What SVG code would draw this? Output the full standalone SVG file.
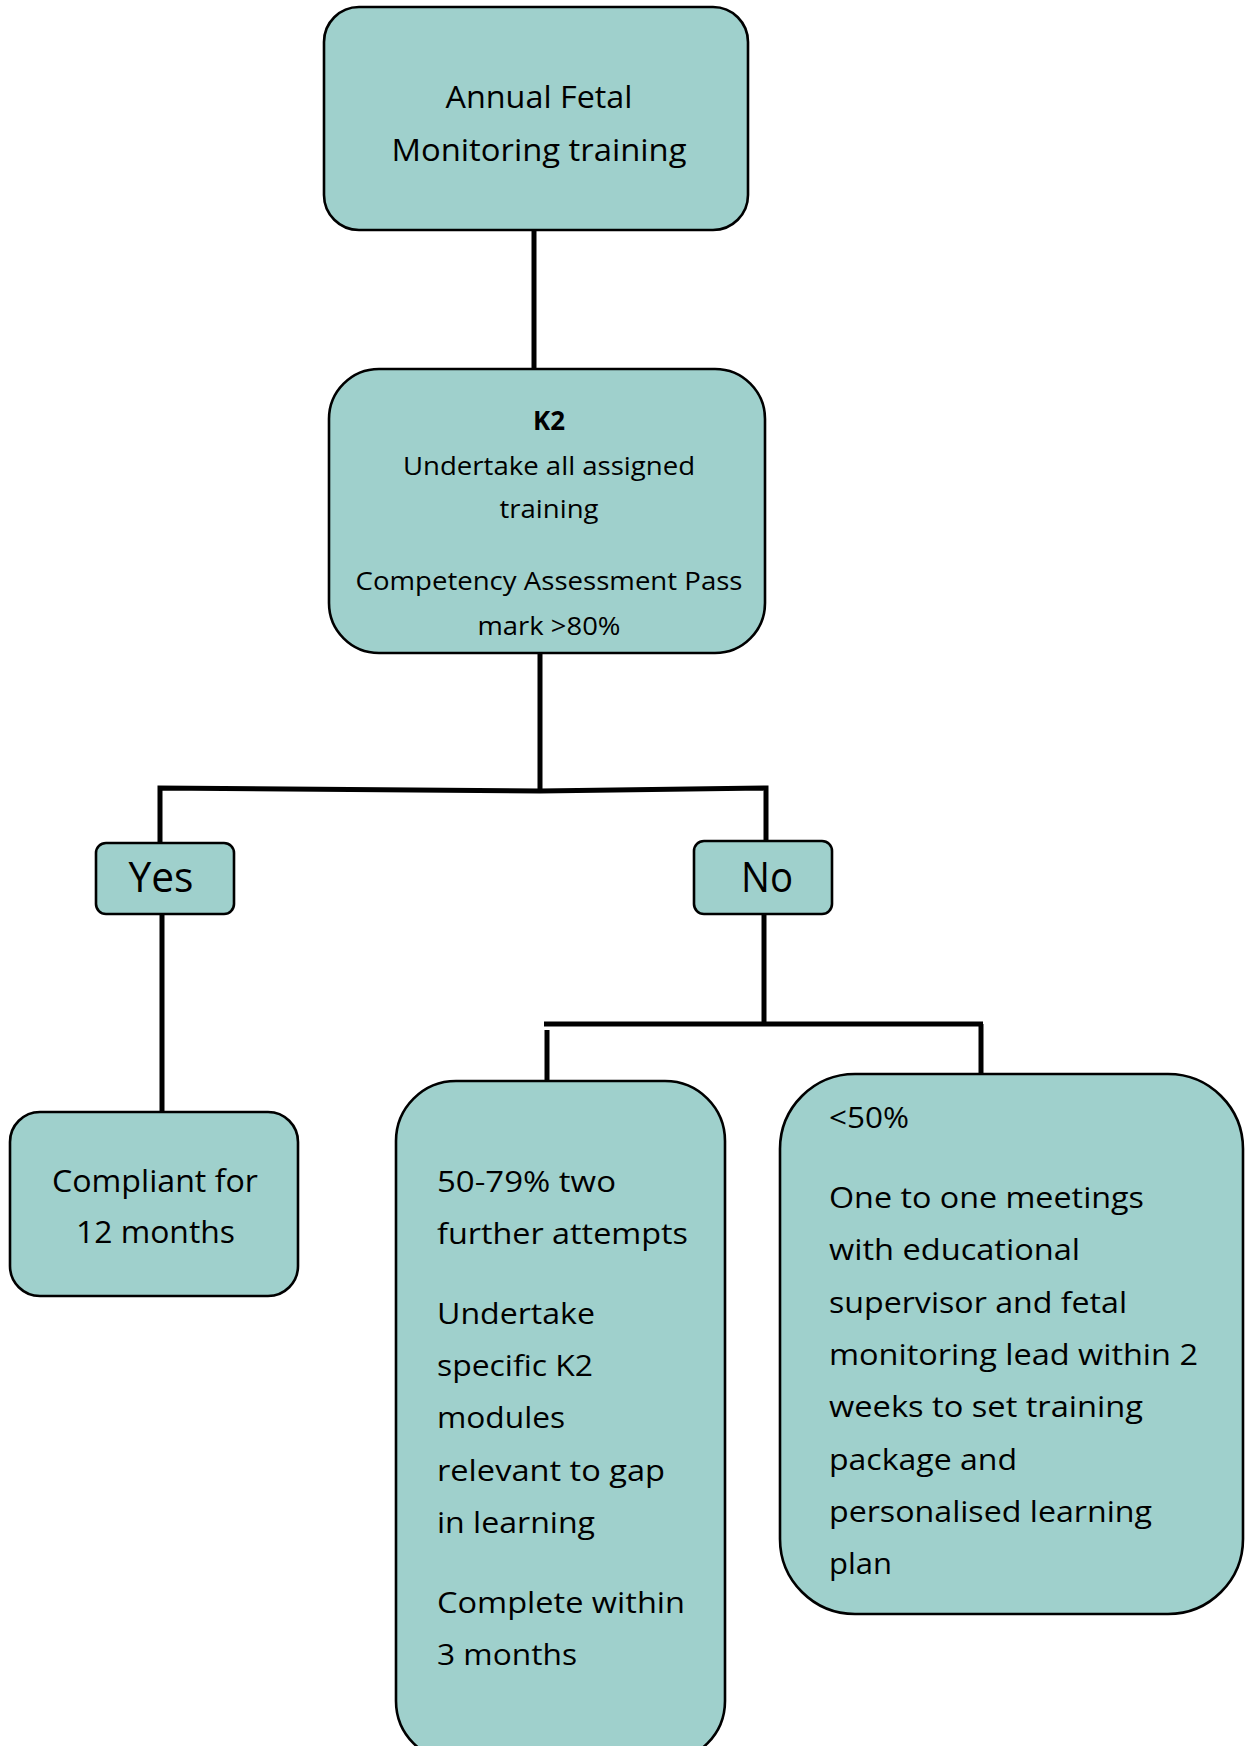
<svg xmlns="http://www.w3.org/2000/svg" width="1247" height="1746" viewBox="0 0 1247 1746">
<style>
.box{fill:#9fd0cc;stroke:#000;stroke-width:2.6}
.t{font-family:"Open Sans","Noto Sans",sans-serif;fill:#000}
.c{text-anchor:middle}
.ln{fill:none;stroke:#000;stroke-width:5;stroke-linecap:butt}
</style>
<rect width="1247" height="1746" fill="#fff"/>
<g id="connectors">
<line class="ln" x1="534" y1="230" x2="534" y2="369"/>
<line class="ln" x1="540" y1="653" x2="540" y2="791"/>
<polyline class="ln" points="160,846 160,788 540,791 766,788 766,842"/>
<line class="ln" x1="162" y1="914" x2="162" y2="1112"/>
<line class="ln" x1="764" y1="914" x2="764" y2="1024"/>
<line class="ln" x1="544" y1="1024" x2="983" y2="1024"/>
<line class="ln" x1="547" y1="1030" x2="547" y2="1081"/>
<line class="ln" x1="981" y1="1024" x2="981" y2="1074"/>
</g>
<g id="annual">
<rect class="box" x="324" y="7" width="424" height="223" rx="35"/>
<text class="t c" font-size="31" x="539" y="108" textLength="187" lengthAdjust="spacingAndGlyphs">Annual Fetal</text>
<text class="t c" font-size="31" x="539" y="161" textLength="295" lengthAdjust="spacingAndGlyphs">Monitoring training</text>
</g>
<g id="k2">
<rect class="box" x="329" y="369" width="436" height="284" rx="50"/>
<text class="t c" font-size="26" font-weight="bold" x="549" y="430" textLength="32" lengthAdjust="spacingAndGlyphs">K2</text>
<text class="t c" font-size="26" x="549" y="475" textLength="292" lengthAdjust="spacingAndGlyphs">Undertake all assigned</text>
<text class="t c" font-size="26" x="549" y="518" textLength="99" lengthAdjust="spacingAndGlyphs">training</text>
<text class="t c" font-size="26" x="549" y="590" textLength="387" lengthAdjust="spacingAndGlyphs">Competency Assessment Pass</text>
<text class="t c" font-size="26" x="549" y="635" textLength="143" lengthAdjust="spacingAndGlyphs">mark &gt;80%</text>
</g>
<g id="yes">
<rect class="box" x="96" y="843" width="138" height="71" rx="10"/>
<text class="t c" font-size="42" x="161" y="892" textLength="65" lengthAdjust="spacingAndGlyphs">Yes</text>
</g>
<g id="no">
<rect class="box" x="694" y="841" width="138" height="73" rx="10"/>
<text class="t c" font-size="42" x="767" y="892" textLength="52" lengthAdjust="spacingAndGlyphs">No</text>
</g>
<g id="compliant">
<rect class="box" x="10" y="1112" width="288" height="184" rx="30"/>
<text class="t c" font-size="31" x="155" y="1192" textLength="206" lengthAdjust="spacingAndGlyphs">Compliant for</text>
<text class="t c" font-size="31" x="155.5" y="1243" textLength="159" lengthAdjust="spacingAndGlyphs">12 months</text>
</g>
<g id="further">
<rect class="box" x="396" y="1081" width="329" height="680" rx="60"/>
<text class="t" font-size="30" x="437" y="1192" textLength="179" lengthAdjust="spacingAndGlyphs">50-79% two</text>
<text class="t" font-size="30" x="437" y="1244" textLength="251" lengthAdjust="spacingAndGlyphs">further attempts</text>
<text class="t" font-size="30" x="437" y="1324" textLength="158" lengthAdjust="spacingAndGlyphs">Undertake</text>
<text class="t" font-size="30" x="437" y="1376" textLength="156" lengthAdjust="spacingAndGlyphs">specific K2</text>
<text class="t" font-size="30" x="437" y="1428" textLength="128" lengthAdjust="spacingAndGlyphs">modules</text>
<text class="t" font-size="30" x="437" y="1481" textLength="228" lengthAdjust="spacingAndGlyphs">relevant to gap</text>
<text class="t" font-size="30" x="437" y="1533" textLength="158" lengthAdjust="spacingAndGlyphs">in learning</text>
<text class="t" font-size="30" x="437" y="1613" textLength="248" lengthAdjust="spacingAndGlyphs">Complete within</text>
<text class="t" font-size="30" x="437" y="1665" textLength="140" lengthAdjust="spacingAndGlyphs">3 months</text>
</g>
<g id="below50">
<rect class="box" x="780" y="1074" width="463" height="540" rx="75"/>
<text class="t" font-size="29" x="829" y="1128" textLength="80" lengthAdjust="spacingAndGlyphs">&lt;50%</text>
<text class="t" font-size="29" x="829" y="1208" textLength="315" lengthAdjust="spacingAndGlyphs">One to one meetings</text>
<text class="t" font-size="29" x="829" y="1260" textLength="251" lengthAdjust="spacingAndGlyphs">with educational</text>
<text class="t" font-size="29" x="829" y="1313" textLength="298" lengthAdjust="spacingAndGlyphs">supervisor and fetal</text>
<text class="t" font-size="29" x="829" y="1365" textLength="369" lengthAdjust="spacingAndGlyphs">monitoring lead within 2</text>
<text class="t" font-size="29" x="829" y="1417" textLength="314" lengthAdjust="spacingAndGlyphs">weeks to set training</text>
<text class="t" font-size="29" x="829" y="1470" textLength="188" lengthAdjust="spacingAndGlyphs">package and</text>
<text class="t" font-size="29" x="829" y="1522" textLength="323" lengthAdjust="spacingAndGlyphs">personalised learning</text>
<text class="t" font-size="29" x="829" y="1574" textLength="63" lengthAdjust="spacingAndGlyphs">plan</text>
</g>
</svg>
